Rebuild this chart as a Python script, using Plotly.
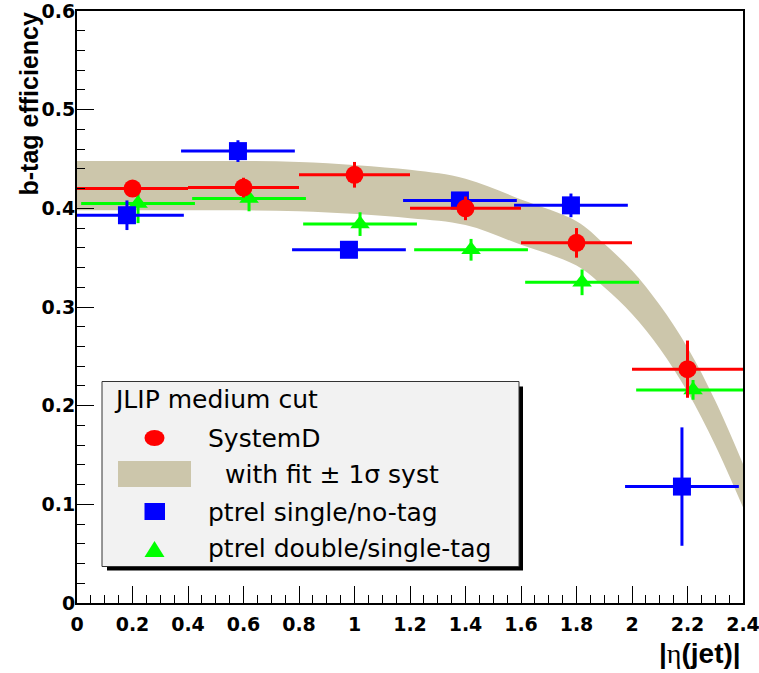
import plotly.graph_objects as go

# ---------------- data ----------------
sysd_x = [0.2, 0.6, 1.0, 1.4, 1.8, 2.2]
sysd_y = [0.420, 0.421, 0.434, 0.400, 0.365, 0.237]
sysd_ey = [0.008, 0.010, 0.013, 0.012, 0.015, 0.029]
sysd_ex = [0.2, 0.2, 0.2, 0.2, 0.2, 0.2]

single_x = [0.18, 0.58, 0.98, 1.38, 1.78, 2.18]
single_y = [0.393, 0.458, 0.358, 0.408, 0.403, 0.118]
single_ey = [0.015, 0.011, 0.005, 0.008, 0.012, 0.060]
single_ex = [0.205, 0.205, 0.205, 0.205, 0.205, 0.205]

double_x = [0.22, 0.62, 1.02, 1.42, 1.82, 2.22]
double_y = [0.405, 0.410, 0.384, 0.358, 0.325, 0.216]
double_ey = [0.020, 0.013, 0.012, 0.011, 0.013, 0.010]
double_ex = [0.205, 0.205, 0.205, 0.205, 0.205, 0.205]

band_x = [0.0, 0.4, 0.8, 1.2, 1.4, 1.6, 1.8, 1.9, 2.0, 2.1, 2.2, 2.3, 2.4]
band_hi = [0.448, 0.448, 0.447, 0.439, 0.430, 0.409, 0.387, 0.364, 0.337, 0.302, 0.259, 0.205, 0.141]
band_lo = [0.398, 0.398, 0.397, 0.390, 0.383, 0.363, 0.342, 0.320, 0.293, 0.258, 0.214, 0.160, 0.097]

x_tickvals = [0, 0.2, 0.4, 0.6, 0.8, 1.0, 1.2, 1.4, 1.6, 1.8, 2.0, 2.2, 2.4]
x_ticktext = ["0", "0.2", "0.4", "0.6", "0.8", "1", "1.2", "1.4", "1.6", "1.8", "2", "2.2", "2.4"]
y_tickvals = [0, 0.1, 0.2, 0.3, 0.4, 0.5, 0.6]
y_ticktext = ["0", "0.1", "0.2", "0.3", "0.4", "0.5", "0.6"]

legend_title = "JLIP medium cut"
legend_labels = ["SystemD", "with fit \u00b1 1\u03c3 syst", "ptrel single/no-tag", "ptrel double/single-tag"]
y_title = "b-tag efficiency"
x_title = "|<span style=\"font-family:'Liberation Serif';font-weight:normal\">\u03b7</span>(jet)|"

RED = "#ff0000"
BLUE = "#0000ff"
GREEN = "#00ff00"
TAN = "#ccc6ab"

W, H = 759, 673
# plot frame in window pixels: x 77..743, y 11..603
ML, MT = 77, 11
MR = W - 743
MB = H - 603
PW, PH = W - ML - MR, H - MT - MB


def px(x):
    """window pixel x -> paper coordinate"""
    return (x - ML) / PW


def py(y):
    """window pixel y -> paper coordinate"""
    return (H - MB - y) / PH


fig = go.Figure()

# fit band
fig.add_trace(go.Scatter(x=band_x, y=band_lo, mode="lines", line=dict(width=0, shape="spline", color=TAN),
                         showlegend=False, hoverinfo="skip"))
fig.add_trace(go.Scatter(x=band_x, y=band_hi, mode="lines", line=dict(width=0, shape="spline", color=TAN),
                         fill="tonexty", fillcolor=TAN, showlegend=False, hoverinfo="skip"))


def series(xs, ys, exs, eys, color, symbol, size):
    return go.Scatter(
        x=xs, y=ys, mode="markers",
        marker=dict(color=color, symbol=symbol, size=size, line=dict(width=0)),
        error_x=dict(type="data", array=exs, color=color, thickness=3, width=0),
        error_y=dict(type="data", array=eys, color=color, thickness=3, width=0),
        showlegend=False,
    )


fig.add_trace(series(double_x, double_y, double_ex, double_ey, GREEN, "triangle-up", 17))
fig.add_trace(series(single_x, single_y, single_ex, single_ey, BLUE, "square", 18))
fig.add_trace(series(sysd_x, sysd_y, sysd_ex, sysd_ey, RED, "circle", 18))

# ---------------- hand-made legend box ----------------
shapes = []
bx0, by0, bx1, by1 = 102, 381.5, 519, 566.5
shapes.append(dict(type="rect", xref="paper", yref="paper", x0=px(bx0 + 5), x1=px(bx1 + 4),
                   y0=py(by1 + 4), y1=py(by0 + 5), fillcolor="black", line=dict(width=0), layer="above"))
shapes.append(dict(type="rect", xref="paper", yref="paper", x0=px(bx0), x1=px(bx1),
                   y0=py(by1), y1=py(by0), fillcolor="#f2f2f2", line=dict(color="#333333", width=1), layer="above"))
# circle
shapes.append(dict(type="circle", xref="paper", yref="paper", x0=px(144.5), x1=px(164.5),
                   y0=py(446), y1=py(430), fillcolor=RED, line=dict(width=0), layer="above"))
# band swatch
shapes.append(dict(type="rect", xref="paper", yref="paper", x0=px(118), x1=px(191),
                   y0=py(487), y1=py(461), fillcolor=TAN, line=dict(width=0), layer="above"))
# square
shapes.append(dict(type="rect", xref="paper", yref="paper", x0=px(144.5), x1=px(165),
                   y0=py(520), y1=py(503), fillcolor=BLUE, line=dict(width=0), layer="above"))
# triangle
tx, tyb, tyt = 154.5, 557, 541
shapes.append(dict(type="path", xref="paper", yref="paper",
                   path=f"M {px(tx-10)} {py(tyb)} L {px(tx+10)} {py(tyb)} L {px(tx)} {py(tyt)} Z",
                   fillcolor=GREEN, line=dict(width=0), layer="above"))

LEG_FONT = dict(family="DejaVu Sans", size=25, color="black")
annotations = [
    dict(text=legend_title, x=px(112), y=py(399), xref="paper", yref="paper", xanchor="left",
         yanchor="middle", showarrow=False, font=LEG_FONT),
    dict(text=legend_labels[0], x=px(206), y=py(438), xref="paper", yref="paper", xanchor="left",
         yanchor="middle", showarrow=False, font=LEG_FONT),
    dict(text=legend_labels[1], x=px(223), y=py(474), xref="paper", yref="paper", xanchor="left",
         yanchor="middle", showarrow=False, font=LEG_FONT),
    dict(text=legend_labels[2], x=px(206), y=py(512), xref="paper", yref="paper", xanchor="left",
         yanchor="middle", showarrow=False, font=LEG_FONT),
    dict(text=legend_labels[3], x=px(206), y=py(548), xref="paper", yref="paper", xanchor="left",
         yanchor="middle", showarrow=False, font=LEG_FONT),
    # axis titles
    dict(text=y_title, x=px(28), y=py(11), xref="paper", yref="paper", xanchor="center",
         yanchor="top", textangle=-90, showarrow=False,
         font=dict(family="Liberation Sans", size=25, color="black", weight="bold")),
    dict(text=x_title, x=px(743), y=py(653), xref="paper", yref="paper", xanchor="right",
         yanchor="middle", showarrow=False,
         font=dict(family="Liberation Sans", size=28, color="black", weight="bold")),
]

TICK_FONT = dict(family="DejaVu Sans", size=19, color="black", weight="bold")

fig.update_layout(
    width=W, height=H,
    margin=dict(l=ML, r=MR, t=MT, b=MB, pad=0),
    paper_bgcolor="white", plot_bgcolor="white",
    shapes=shapes, annotations=annotations,
    showlegend=False,
    xaxis=dict(range=[0, 2.4], tickvals=x_tickvals, ticktext=x_ticktext, ticks="inside", ticklen=17,
               tickwidth=1, tickcolor="black", showline=True, linecolor="black", linewidth=2,
               mirror=True, showgrid=False, zeroline=False, tickfont=TICK_FONT, automargin=False,
               ticklabelstandoff=3, ticklabeloverflow="allow",
               minor=dict(ticks="inside", ticklen=8, dtick=0.05, tickcolor="black", tickwidth=1, showgrid=False)),
    yaxis=dict(range=[0, 0.6], tickvals=y_tickvals, ticktext=y_ticktext, ticks="inside", ticklen=17,
               tickwidth=1, tickcolor="black", showline=True, linecolor="black", linewidth=2,
               mirror=True, showgrid=False, zeroline=False, tickfont=TICK_FONT, automargin=False,
               ticklabelstandoff=-4, ticklabeloverflow="allow",
               minor=dict(ticks="inside", ticklen=8, dtick=0.02, tickcolor="black", tickwidth=1, showgrid=False)),
)

# remove the default 8 px page margin so the figure fills the 759x673 window exactly
fig.write_html("out.html", config={"displayModeBar": False},
               post_script="document.body.style.margin='0px';")
